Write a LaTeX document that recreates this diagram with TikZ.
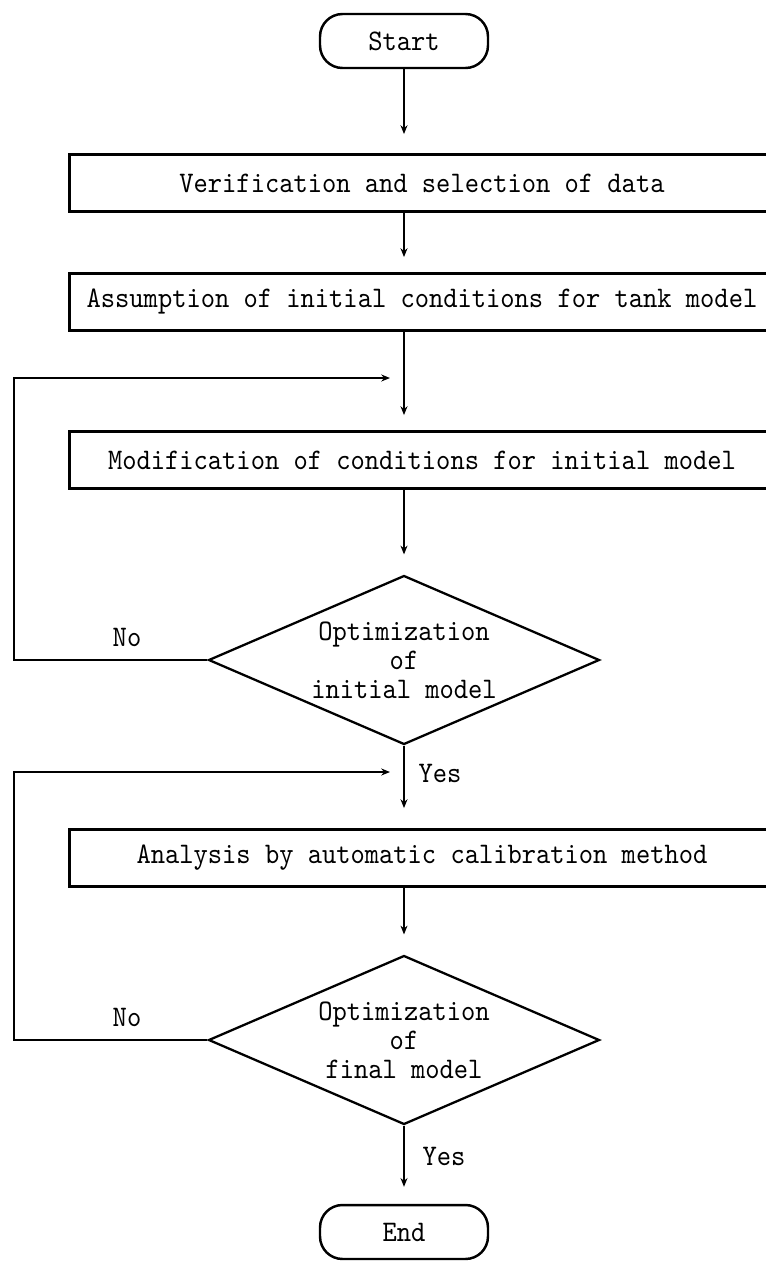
\documentclass[tikz,border=0pt]{standalone}
\usepackage{fontspec}
\usepackage{tikz}
\usetikzlibrary{positioning, arrows.meta, shapes.geometric, calc}
\newfontfamily\chartfont{lmmono10-regular.otf}[FakeStretch=0.91]

\tikzset{
    flowtext/.style={font=\chartfont\fontsize{17}{16.6}\selectfont, align=center},
    term/.style={flowtext, draw, line width=1.4pt, rounded corners=0.45cm,
        minimum width=3.36cm, minimum height=1.08cm, inner sep=0pt},
    stepbox/.style={flowtext, draw, line width=1.7pt,
        minimum width=14.1cm, minimum height=1.14cm, inner sep=0pt},
    test/.style={flowtext, draw, diamond, line width=1.3pt, aspect=2.31,
        minimum width=7.82cm, minimum height=3.38cm, inner sep=0pt},
    lbl/.style={flowtext},
    flow/.style={->, line width=0.7pt},
}

\begin{document}
\begin{tikzpicture}[x=0.02cm, y=-0.02cm, >={Stealth[length=5pt, width=4pt]}]

\useasboundingbox (0,0) rectangle (766,1282);
\clip (0,0) rectangle (766,1282);

% Blocs
\node[term] (start) at (404,41) {Start};
\node[stepbox] (verif) at (422,183) {Verification and selection of data};
\node[stepbox] (assum) at (422,302) {Assumption of initial conditions for tank model};
\node[stepbox] (modif) at (422,460) {Modification of conditions for initial model};
\node[test] (optinit) at (404,660) {Optimization\\of\\initial model};
\node[stepbox] (calib) at (422,858) {Analysis by automatic calibration method};
\node[test] (optfin) at (404,1040) {Optimization\\of\\final model};
\node[term] (end) at (404,1232) {End};

% Points de retour
\coordinate (rail) at (14,0);
\coordinate (joinA) at (390,378);
\coordinate (joinB) at (390,772);

% Fleches principales
\draw[flow, shorten >=0.38cm] (start) -- (start |- verif.north);
\draw[flow, shorten >=0.3cm] (start |- verif.south) -- (start |- assum.north);
\draw[flow, shorten >=0.3cm] (start |- assum.south) -- (start |- modif.north);
\draw[flow, shorten >=0.4cm] (start |- modif.south) -- (optinit.north);
\draw[flow, shorten >=0.4cm] (optinit.south) -- (start |- calib.north);
\draw[flow, shorten >=0.4cm] (start |- calib.south) -- (optfin.north);
\draw[flow, shorten >=0.34cm] (optfin.south) -- (end.north);

% Boucles
\draw[flow] (optinit.west) -- (optinit.west -| rail) |- (joinA);
\draw[flow] (optfin.west) -- (optfin.west -| rail) |- (joinB);

% Etiquettes
\node[lbl] (no1) at (127,637) {No};
\node[lbl] (yes1) at (440,773) {Yes};
\node[lbl] (no2) at (127,1017) {No};
\node[lbl] (yes2) at (444,1156) {Yes};

\end{tikzpicture}
\end{document}
